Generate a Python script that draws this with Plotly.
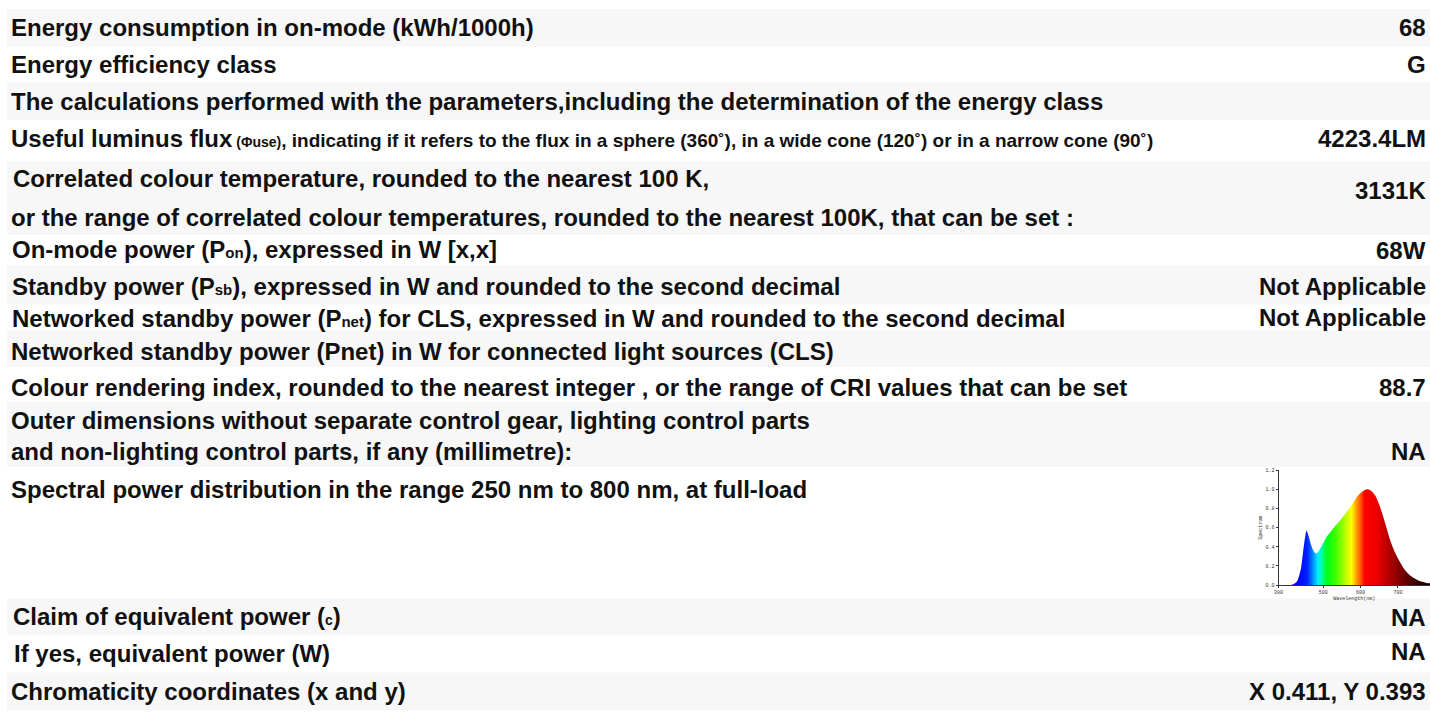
import plotly.graph_objects as go

# ---------------- data ----------------
labels = [
    "Energy consumption in on-mode (kWh/1000h)",
    "Energy efficiency class",
    "The calculations performed with the parameters,including the determination of the energy class",
    "Useful luminus flux<span style='font-size:14px'> (Φuse)</span><span style='font-size:19px'>, indicating if it refers to the flux in a sphere (360˚), in a wide cone (120˚) or in a narrow cone (90˚)</span>",
    "Correlated colour temperature, rounded to the nearest 100 K,",
    "or the range of correlated colour temperatures, rounded to the nearest 100K, that can be set :",
    "On-mode power (P<span style='font-size:15px'>on</span>), expressed in W [x,x]",
    "Standby power (P<span style='font-size:15px'>sb</span>), expressed in W and rounded to the second decimal",
    "Networked standby power (P<span style='font-size:15px'>net</span>) for CLS, expressed in W and rounded to the second decimal",
    "Networked standby power (Pnet) in W for connected light sources (CLS)",
    "Colour rendering index, rounded to the nearest integer , or the range of CRI values that can be set",
    "Outer dimensions without separate control gear, lighting control parts",
    "and non-lighting control parts, if any (millimetre):",
    "Spectral power distribution in the range 250 nm to 800 nm, at full-load",
    "Claim of equivalent power (<span style='font-size:14px'>c</span>)",
    "If yes, equivalent power (W)",
    "Chromaticity coordinates (x and y)",
]
values = ["68", "G", "4223.4LM", "3131K", "68W", "Not Applicable", "Not Applicable",
          "88.7", "NA", "NA", "NA", "X 0.411, Y 0.393"]

wavelength = [380, 400, 410, 420, 430, 440, 445, 450, 455, 460, 465, 470, 475, 480, 485, 490,
              500, 510, 520, 530, 540, 550, 560, 570, 580, 590, 600, 610, 620, 630, 640, 650,
              660, 670, 680, 690, 700, 710, 720, 730, 740, 750, 760, 770, 780, 786]
spectrum = [0.00, 0.00, 0.00, 0.01, 0.04, 0.17, 0.32, 0.47, 0.57, 0.52, 0.45, 0.39, 0.35, 0.33, 0.34, 0.37,
            0.44, 0.51, 0.56, 0.61, 0.65, 0.70, 0.75, 0.80, 0.86, 0.92, 0.96, 0.99, 1.00, 0.98, 0.93, 0.84,
            0.72, 0.59, 0.46, 0.36, 0.28, 0.21, 0.15, 0.11, 0.08, 0.06, 0.04, 0.03, 0.02, 0.02]
x_ticks = [380, 500, 600, 700]
y_ticks = [0.0, 0.2, 0.4, 0.6, 0.8, 1.0, 1.2]

# ---------------- layout helpers ----------------
W, H = 1430, 726
def px(x):
    return x / W
def py(y):
    return 1 - y / H

FONT = "Liberation Sans, Arial, Helvetica, sans-serif"
TXT = "#111111"
GRAY = "#f7f7f7"

gray_bands = [(7, 45), (81, 119), (160, 235), (265, 305), (331, 368), (403, 469), (601, 638), (676, 714)]
label_pos = [(12, 26), (12, 63), (12, 100), (12, 138), (14, 178), (12, 217), (13, 250), (13, 287),
             (13, 319), (12, 352), (12, 389), (12, 422), (12, 453), (12, 492), (14, 620), (15, 657), (12, 695)]
value_y = [26, 63, 138, 190, 251, 287, 318, 389, 453, 621, 655, 695]
TEXT_PAD = 8  # annotation inner offset

fig = go.Figure()

# spectrum chart (fill coloured by wavelength)
spec_colors = [
    [0.00, "#10004a"], [0.075, "#2800c8"], [0.125, "#0000ff"], [0.19, "#0020ff"],
    [0.22, "#0070ff"], [0.2625, "#00f0ff"], [0.29, "#00ffa0"], [0.32, "#00ff20"],
    [0.37, "#30ff00"], [0.44, "#a8ff00"], [0.4875, "#ffff00"], [0.52, "#ffa000"],
    [0.55, "#ff5000"], [0.575, "#ff0000"], [0.65, "#f00000"], [0.72, "#c00000"],
    [0.80, "#880000"], [0.88, "#500000"], [0.95, "#280000"], [1.00, "#150000"],
]
fig.add_trace(go.Scatter(
    x=wavelength, y=spectrum, mode="lines",
    line=dict(width=0, shape="spline", smoothing=0.6, color="rgba(0,0,0,0)"),
    fill="tozeroy",
    fillgradient=dict(type="horizontal", colorscale=spec_colors, start=380, stop=780),
    hoverinfo="skip", showlegend=False,
))

shapes = []
for (t, b) in gray_bands:
    shapes.append(dict(type="rect", xref="paper", yref="paper", x0=px(2), x1=1.0,
                       y0=py(b), y1=py(t), fillcolor=GRAY, line=dict(width=0), layer="below"))

annotations = []
for text, (x, y) in zip(labels, label_pos):
    annotations.append(dict(text=f"<b>{text}</b>", x=px(x - TEXT_PAD), y=py(y), xref="paper", yref="paper",
                            xanchor="left", yanchor="middle", showarrow=False,
                            font=dict(family=FONT, size=24, color=TXT)))
for text, y in zip(values, value_y):
    annotations.append(dict(text=f"<b>{text}</b>", x=px(1427.5), y=py(y), xref="paper", yref="paper",
                            xanchor="right", yanchor="middle", showarrow=False,
                            font=dict(family=FONT, size=24, color=TXT)))

tickfont = dict(family="Liberation Mono, DejaVu Sans Mono, monospace", size=5, color="#333")
fig.update_layout(
    width=W, height=H, margin=dict(l=0, r=0, t=0, b=0),
    paper_bgcolor="white", plot_bgcolor="white",
    shapes=shapes, annotations=annotations, showlegend=False,
    xaxis=dict(domain=[px(1278), 1.0], range=[380, 786], tickvals=x_ticks,
               ticks="outside", ticklen=2, tickcolor="#333", tickfont=tickfont,
               showline=True, linecolor="#333", linewidth=1, showgrid=False, zeroline=False,
               anchor="y", fixedrange=True,
               title=dict(text="Wavelength(nm)", font=tickfont, standoff=1)),
    yaxis=dict(domain=[py(588), py(472)], range=[0, 1.2], tickvals=y_ticks, tickformat=".1f",
               ticks="outside", ticklen=2, tickcolor="#333", tickfont=tickfont,
               showline=True, linecolor="#333", linewidth=1, showgrid=False, zeroline=False,
               anchor="x", fixedrange=True,
               title=dict(text="Spectrum", font=tickfont, standoff=2)),
)

fig.write_html("out.html", config={"displayModeBar": False},
               post_script="document.body.style.margin='0';")
